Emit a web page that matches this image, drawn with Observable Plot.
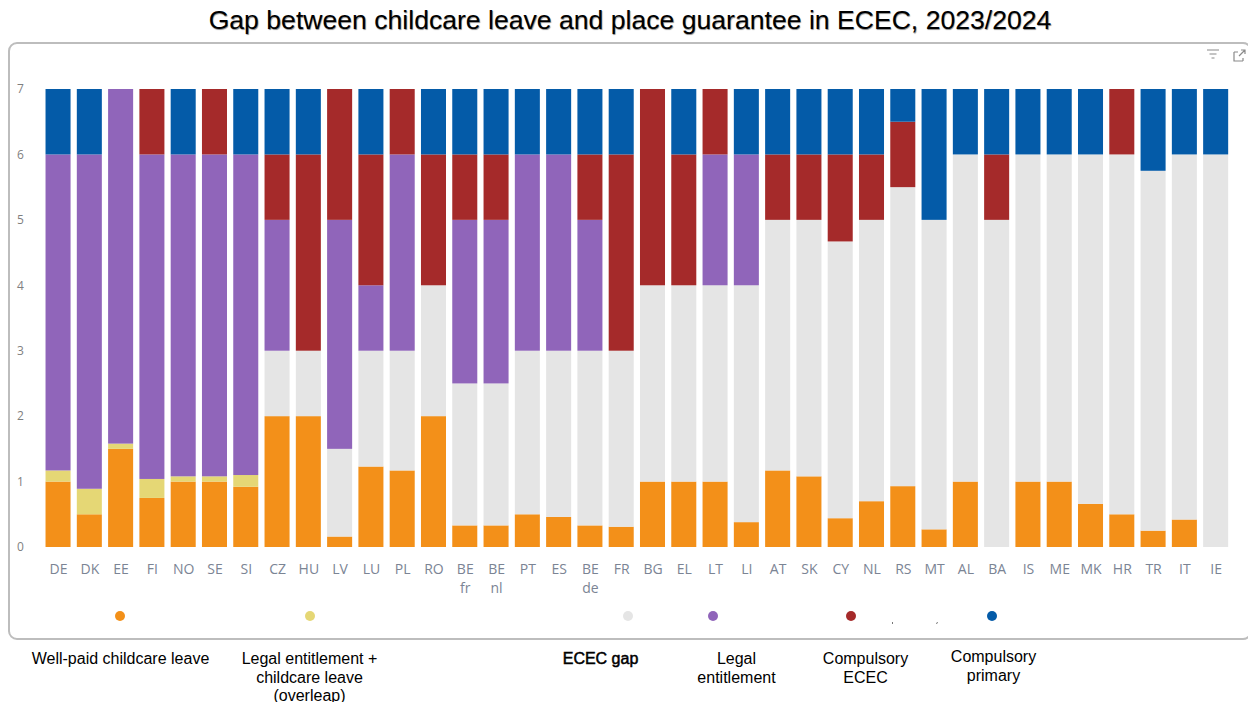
<!DOCTYPE html>
<html lang="en">
<head>
<meta charset="utf-8">
<title>Gap between childcare leave and place guarantee in ECEC, 2023/2024</title>
<script src="https://cdn.jsdelivr.net/npm/d3@7"></script>
<script src="https://cdn.jsdelivr.net/npm/@observablehq/plot@0.6"></script>
<style>
  html, body { margin: 0; padding: 0; background: #fff; }
  body { position: relative; width: 1248px; height: 702px; overflow: hidden; font-family: "Liberation Sans", Arial, sans-serif; color: #000; }
  #title { position: absolute; left: 0; width: 1260px; top: 5px; text-align: center; font-size: 26.6px; line-height: 30px; text-shadow: 0.6px 0.6px 0.8px rgba(0,0,0,.45); }
  #frame { position: absolute; left: 7.500px; top: 42.300px; width: 1240px; height: 594px; border: 2px solid #bdbdbd; border-radius: 9px; }
  #chart { position: absolute; left: 0; top: 44px; }
  .dot { position: absolute; width: 10px; height: 10px; border-radius: 50%; top: 610.5px; }
  .key { position: absolute; transform: translateX(-50%); text-align: center; font-size: 16px; line-height: 18.7px; white-space: nowrap; }
  .key.strong { -webkit-text-stroke: 0.5px #000; }
  #icons { position: absolute; left: 1205px; top: 47px; }
  #specks { position: absolute; left: 885px; top: 620px; }
</style>
</head>
<body>
<div id="title">Gap between childcare leave and place guarantee in ECEC, 2023/2024</div>
<div id="frame"></div>
<div id="chart"></div>
<svg id="specks" width="60" height="6" fill="none" stroke="#777" stroke-width="1">
  <path d="M7.500 2v2M52.500 2l-1 2"/>
</svg>
<svg id="icons" width="44" height="18" viewBox="0 0 44 18" fill="none" stroke="#8a8a8a" stroke-width="1.2">
  <path d="M2 3h12M4.500 7h7M6.500 11h3"/>
  <path d="M29 5v9h9M29 5h4M38 14v-3M34 9l6-6M36 3h4v4"/>
</svg>

<script>
// Systems in display order, with two-line labels for the Belgian communities
const countries = ["DE","DK","EE","FI","NO","SE","SI","CZ","HU","LV","LU","PL","RO","BE\nfr","BE\nnl","PT","ES","BE\nde","FR","BG","EL","LT","LI","AT","SK","CY","NL","RS","MT","AL","BA","IS","ME","MK","HR","TR","IT","IE"];

// Years covered by each stage, stacked from the bottom
const wellPaidLeave = [1,0.5,1.5,0.75,1,1,0.92,2,2,0.16,1.23,1.17,2,0.33,0.33,0.5,0.46,0.33,0.31,1,1,1,0.38,1.17,1.08,0.44,0.7,0.93,0.27,1,0,1,1,0.66,0.5,0.25,0.42,0];
const overlap       = [0.17,0.39,0.08,0.29,0.08,0.08,0.18,0,0,0,0,0,0,0,0,0,0,0,0,0,0,0,0,0,0,0,0,0,0,0,0,0,0,0,0,0,0,0];
const ececGap       = [0,0,0,0,0,0,0,1,1,1.34,1.77,1.83,2,2.17,2.17,2.5,2.54,2.67,2.69,3,3,3,3.62,3.83,3.92,4.23,4.3,4.57,4.73,5,5,5,5,5.34,5.5,5.5,5.58,6];
const legalRight    = [4.83,5.11,5.42,4.96,4.92,4.92,4.9,2,0,3.5,1,3,0,2.5,2.5,3,3,2,0,0,0,2,2,0,0,0,0,0,0,0,0,0,0,0,0,0,0,0];
const compulsoryEcec = [0,0,0,1,0,1,0,1,3,2,2,1,2,1,1,0,0,1,3,3,2,1,0,1,1,1.33,1,1,0,0,1,0,0,0,1,0,0,0];
const compulsoryPrimary = [1,1,0,0,1,0,1,1,1,0,1,0,1,1,1,1,1,1,1,0,1,0,1,1,1,1,1,0.5,2,1,1,1,1,1,0,1.25,1,1];

const stages = ["Well-paid childcare leave","Legal entitlement + childcare leave (overleap)","ECEC gap","Legal entitlement","Compulsory ECEC","Compulsory primary"];
const stageValues = [wellPaidLeave, overlap, ececGap, legalRight, compulsoryEcec, compulsoryPrimary];
const stageColors = ["#f39019","#e5d775","#e5e5e5","#9065ba","#a52a2a","#045ba8"];
const yTicks = [0,1,2,3,4,5,6,7];

const rows = stages.flatMap((stage, s) =>
  countries.map((country, c) => ({country, stage, years: stageValues[s][c]}))
);

const chart = Plot.plot({
  width: 1248,
  height: 600,
  marginTop: 45,
  marginBottom: 97,
  marginLeft: 42.4,
  marginRight: 16.7,
  style: {background: "transparent", overflow: "visible"},
  x: {domain: countries, paddingInner: 0.2, paddingOuter: 0.1, align: 0.5, round: false, label: null},
  y: {domain: [0, 7], label: null},
  color: {domain: stages, range: stageColors},
  marks: [
    Plot.ruleY(yTicks, {x1: 33, x2: 1231, stroke: "#cfcfcf", strokeWidth: 1, strokeDasharray: "1.500 6"}),
    Plot.barY(rows, {x: "country", y: "years", fill: "stage", order: stages}),
    Plot.axisX({
      tickSize: 0,
      tickPadding: 13,
      fontSize: 14,
      lineHeight: 1.36,
      fontFamily: "'Open Sans', sans-serif",
      color: "#7b8494",
      label: null
    }),
    Plot.axisY({
      ticks: yTicks,
      tickFormat: "d",
      tickSize: 0,
      tickPadding: 19,
      fontSize: 12,
      fontFamily: "'Open Sans', sans-serif",
      color: "#7f7f7f",
      label: null
    })
  ]
});
document.getElementById("chart").appendChild(chart);

// Legend: a row of dots inside the frame, names set below it
const dotCentres = [119.5, 309.5, 628, 713, 851, 992];
const keyLayout = [
  {cx: 120.5, top: 650, lines: ["Well-paid childcare leave"]},
  {cx: 309.5, top: 650, lines: ["Legal entitlement +", "childcare leave", "(overleap)"]},
  {cx: 600.5, top: 650, lines: ["ECEC gap"], strong: true},
  {cx: 736.5, top: 650, lines: ["Legal", "entitlement"]},
  {cx: 865.5, top: 650, lines: ["Compulsory", "ECEC"]},
  {cx: 993.5, top: 648, lines: ["Compulsory", "primary"]}
];
stages.forEach((stage, i) => {
  const dot = document.createElement("div");
  dot.className = "dot";
  dot.style.left = (dotCentres[i] - 5) + "px";
  dot.style.background = stageColors[i];
  document.body.appendChild(dot);

  const key = document.createElement("div");
  key.className = "key" + (keyLayout[i].strong ? " strong" : "");
  key.style.left = keyLayout[i].cx + "px";
  key.style.top = keyLayout[i].top + "px";
  key.innerHTML = keyLayout[i].lines.join("<br>");
  document.body.appendChild(key);
});
</script>
</body>
</html>
